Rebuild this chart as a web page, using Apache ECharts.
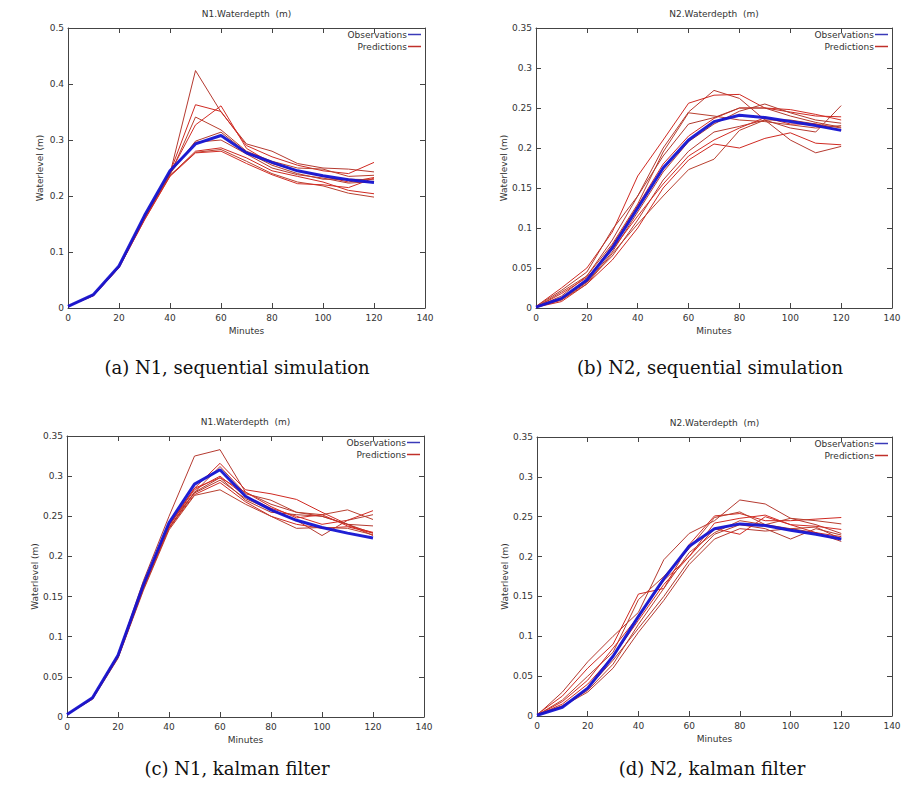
<!DOCTYPE html>
<html>
<head>
<meta charset="utf-8">
<script src="https://cdn.jsdelivr.net/npm/echarts@6/dist/echarts.min.js"></script>
<style>
html,body{margin:0;padding:0;background:#fff;}
#main{width:922px;height:790px;}
</style>
</head>
<body>
<div id="main"></div>
<script>
// ---- data ----
const minutes = [0, 10, 20, 30, 40, 50, 60, 70, 80, 90, 100, 110, 120];
const xTicks = [0, 20, 40, 60, 80, 100, 120, 140];
const panelTitles = ['N1.Waterdepth  (m)', 'N2.Waterdepth  (m)', 'N1.Waterdepth  (m)', 'N2.Waterdepth  (m)'];
const captions = ['(a) N1, sequential simulation', '(b) N2, sequential simulation', '(c) N1, kalman filter', '(d) N2, kalman filter'];
const yMax = [0.5, 0.35, 0.35, 0.35];
const yStep = [0.1, 0.05, 0.05, 0.05];

const obsA = [0.003, 0.024, 0.075, 0.165, 0.245, 0.293, 0.308, 0.277, 0.260, 0.245, 0.236, 0.229, 0.224];
const predA = [
  [0.003, 0.023, 0.074, 0.162, 0.240, 0.424, 0.350, 0.293, 0.280, 0.258, 0.250, 0.248, 0.243],
  [0.003, 0.024, 0.075, 0.163, 0.242, 0.363, 0.351, 0.290, 0.270, 0.255, 0.245, 0.240, 0.260],
  [0.003, 0.023, 0.073, 0.160, 0.238, 0.341, 0.318, 0.280, 0.262, 0.250, 0.248, 0.235, 0.237],
  [0.003, 0.024, 0.075, 0.164, 0.241, 0.327, 0.361, 0.285, 0.258, 0.245, 0.235, 0.225, 0.233],
  [0.003, 0.023, 0.074, 0.161, 0.240, 0.298, 0.314, 0.278, 0.255, 0.240, 0.230, 0.230, 0.229],
  [0.003, 0.024, 0.075, 0.163, 0.243, 0.296, 0.300, 0.275, 0.250, 0.238, 0.232, 0.223, 0.226],
  [0.003, 0.022, 0.072, 0.158, 0.236, 0.280, 0.286, 0.268, 0.245, 0.235, 0.225, 0.210, 0.204],
  [0.003, 0.023, 0.073, 0.159, 0.237, 0.278, 0.283, 0.262, 0.240, 0.225, 0.218, 0.205, 0.198],
  [0.003, 0.022, 0.072, 0.157, 0.235, 0.277, 0.280, 0.258, 0.238, 0.222, 0.220, 0.215, 0.232]
];

const obsB = [0.001, 0.012, 0.035, 0.075, 0.125, 0.175, 0.210, 0.233, 0.241, 0.238, 0.233, 0.228, 0.222];
const predB = [
  [0.001, 0.015, 0.040, 0.085, 0.140, 0.200, 0.245, 0.272, 0.262, 0.235, 0.210, 0.194, 0.202],
  [0.002, 0.025, 0.050, 0.095, 0.165, 0.210, 0.256, 0.266, 0.267, 0.250, 0.245, 0.240, 0.239],
  [0.001, 0.020, 0.040, 0.080, 0.130, 0.195, 0.244, 0.240, 0.235, 0.233, 0.229, 0.225, 0.228],
  [0.001, 0.012, 0.035, 0.078, 0.128, 0.180, 0.215, 0.237, 0.250, 0.250, 0.248, 0.242, 0.235],
  [0.001, 0.010, 0.032, 0.070, 0.120, 0.170, 0.208, 0.230, 0.246, 0.255, 0.244, 0.235, 0.231],
  [0.001, 0.012, 0.033, 0.065, 0.110, 0.160, 0.196, 0.220, 0.227, 0.235, 0.225, 0.220, 0.253],
  [0.001, 0.008, 0.030, 0.060, 0.100, 0.150, 0.185, 0.205, 0.200, 0.212, 0.219, 0.206, 0.204],
  [0.001, 0.010, 0.030, 0.068, 0.105, 0.140, 0.173, 0.186, 0.222, 0.235, 0.235, 0.230, 0.225],
  [0.001, 0.018, 0.038, 0.073, 0.115, 0.155, 0.190, 0.210, 0.225, 0.238, 0.230, 0.230, 0.222],
  [0.002, 0.022, 0.045, 0.098, 0.140, 0.190, 0.230, 0.238, 0.250, 0.250, 0.240, 0.232, 0.226]
];

const obsC = [0.003, 0.024, 0.077, 0.165, 0.242, 0.290, 0.308, 0.275, 0.258, 0.245, 0.236, 0.229, 0.223];
const predC = [
  [0.003, 0.024, 0.077, 0.170, 0.250, 0.325, 0.333, 0.280, 0.265, 0.255, 0.250, 0.240, 0.238],
  [0.003, 0.023, 0.075, 0.165, 0.240, 0.285, 0.316, 0.283, 0.278, 0.271, 0.255, 0.240, 0.226],
  [0.003, 0.023, 0.074, 0.160, 0.235, 0.280, 0.312, 0.278, 0.270, 0.255, 0.252, 0.258, 0.246],
  [0.003, 0.024, 0.076, 0.163, 0.238, 0.283, 0.300, 0.275, 0.260, 0.250, 0.240, 0.245, 0.257],
  [0.003, 0.023, 0.075, 0.162, 0.236, 0.280, 0.298, 0.270, 0.255, 0.252, 0.250, 0.240, 0.229],
  [0.003, 0.024, 0.076, 0.164, 0.240, 0.279, 0.295, 0.272, 0.258, 0.245, 0.226, 0.245, 0.252],
  [0.003, 0.023, 0.074, 0.160, 0.235, 0.277, 0.292, 0.268, 0.250, 0.240, 0.235, 0.237, 0.229],
  [0.003, 0.022, 0.073, 0.158, 0.233, 0.276, 0.283, 0.265, 0.250, 0.235, 0.236, 0.235, 0.227],
  [0.003, 0.024, 0.076, 0.163, 0.238, 0.285, 0.298, 0.280, 0.262, 0.248, 0.252, 0.238, 0.230]
];

const obsD = [0.001, 0.011, 0.035, 0.075, 0.125, 0.172, 0.213, 0.235, 0.241, 0.239, 0.233, 0.228, 0.222];
const predD = [
  [0.001, 0.030, 0.068, 0.100, 0.130, 0.196, 0.229, 0.245, 0.271, 0.266, 0.248, 0.240, 0.229],
  [0.002, 0.025, 0.060, 0.090, 0.153, 0.160, 0.215, 0.251, 0.254, 0.245, 0.245, 0.247, 0.249],
  [0.001, 0.020, 0.050, 0.080, 0.146, 0.175, 0.210, 0.249, 0.256, 0.240, 0.248, 0.245, 0.241],
  [0.001, 0.015, 0.040, 0.075, 0.120, 0.165, 0.200, 0.242, 0.248, 0.252, 0.240, 0.238, 0.234],
  [0.001, 0.011, 0.035, 0.070, 0.110, 0.150, 0.195, 0.228, 0.240, 0.235, 0.222, 0.235, 0.227],
  [0.001, 0.012, 0.030, 0.060, 0.105, 0.145, 0.190, 0.222, 0.235, 0.232, 0.235, 0.230, 0.219],
  [0.001, 0.018, 0.045, 0.085, 0.125, 0.170, 0.200, 0.235, 0.228, 0.250, 0.240, 0.230, 0.225],
  [0.001, 0.013, 0.032, 0.065, 0.115, 0.160, 0.205, 0.230, 0.245, 0.240, 0.235, 0.237, 0.222]
];

const observations = [obsA, obsB, obsC, obsD];
const predictions = [predA, predB, predC, predD];

// ---- layout ----
const grids = [
  {left: 68, top: 28, width: 357, height: 280},
  {left: 536, top: 28, width: 356, height: 280},
  {left: 67, top: 436, width: 357, height: 281},
  {left: 537, top: 437, width: 355, height: 279}
];
const legendPos = [
  {right: 501, top: 30},
  {right: 34, top: 30},
  {right: 502, top: 438},
  {right: 34, top: 439}
];
const captionPos = [[237, 367], [710, 367], [237, 768], [712, 768]];
const nameGaps = [24, 28, 28, 28];

const FONT = 'DejaVu Sans';
const predColors = ['#b53a30', '#cf2a22', '#b8402f', '#d22d25', '#b03a2e'];

const xAxes = [], yAxes = [], series = [], legends = [], graphics = [];
grids.forEach(function (g, i) {
  xAxes.push({
    gridIndex: i, type: 'value', min: 0, max: 140, interval: 20, position: 'bottom',
    name: 'Minutes', nameLocation: 'middle', nameGap: 18,
    nameTextStyle: {fontFamily: FONT, fontSize: 9, color: '#333'},
    axisLine: {show: true, onZero: false, lineStyle: {color: '#444', width: 1}},
    axisTick: {show: true, inside: true, length: 5, lineStyle: {color: '#444'}},
    axisLabel: {fontFamily: FONT, fontSize: 9, color: '#333', margin: 5},
    splitLine: {show: false}
  });
  xAxes.push({
    gridIndex: i, type: 'value', min: 0, max: 140, interval: 20, position: 'top',
    axisLine: {show: true, onZero: false, lineStyle: {color: '#444', width: 1}},
    axisTick: {show: true, inside: true, length: 5, lineStyle: {color: '#444'}},
    axisLabel: {show: false}, splitLine: {show: false}
  });
  yAxes.push({
    gridIndex: i, type: 'value', min: 0, max: yMax[i], interval: yStep[i], position: 'left',
    name: 'Waterlevel (m)', nameLocation: 'middle', nameRotate: 90, nameGap: nameGaps[i],
    nameTextStyle: {fontFamily: FONT, fontSize: 9, color: '#333'},
    axisLine: {show: true, onZero: false, lineStyle: {color: '#444', width: 1}},
    axisTick: {show: true, inside: true, length: 5, lineStyle: {color: '#444'}},
    axisLabel: {fontFamily: FONT, fontSize: 9, color: '#333', margin: 4},
    splitLine: {show: false}
  });
  yAxes.push({
    gridIndex: i, type: 'value', min: 0, max: yMax[i], interval: yStep[i], position: 'right',
    axisLine: {show: true, onZero: false, lineStyle: {color: '#444', width: 1}},
    axisTick: {show: true, inside: true, length: 5, lineStyle: {color: '#444'}},
    axisLabel: {show: false}, splitLine: {show: false}
  });

  predictions[i].forEach(function (vals, k) {
    series.push({
      name: 'Predictions', type: 'line', xAxisIndex: 2 * i, yAxisIndex: 2 * i,
      data: minutes.map(function (m, j) { return [m, vals[j]]; }),
      symbol: 'none', silent: true, z: 2,
      lineStyle: {color: predColors[k % predColors.length], width: 1},
      itemStyle: {color: '#c0302a'}
    });
  });
  series.push({
    name: 'Observations', type: 'line', xAxisIndex: 2 * i, yAxisIndex: 2 * i,
    data: minutes.map(function (m, j) { return [m, observations[i][j]]; }),
    symbol: 'none', silent: true, z: 3,
    lineStyle: {color: '#1414d2', width: 3, opacity: 0.95},
    itemStyle: {color: '#3a3ab8'}
  });

  legends.push({
    orient: 'vertical', align: 'right', right: legendPos[i].right, top: legendPos[i].top,
    padding: 0, itemGap: 3, itemWidth: 13, itemHeight: 1.5, icon: 'rect',
    selectedMode: false,
    textStyle: {fontFamily: FONT, fontSize: 9, color: '#333', padding: [0, -4, 0, 0]},
    data: [{name: 'Observations', itemStyle: {color: '#3a3ab8'}}, {name: 'Predictions', itemStyle: {color: '#c0302a'}}]
  });

  graphics.push({
    type: 'text', x: g.left + g.width / 2, y: g.top - 14,
    style: {text: panelTitles[i], fontFamily: FONT, fontSize: 9, fill: '#333', textAlign: 'center', textVerticalAlign: 'middle'}
  });
  graphics.push({
    type: 'text', x: captionPos[i][0], y: captionPos[i][1],
    style: {text: captions[i], fontFamily: 'DejaVu Serif', fontSize: 18, fill: '#111', textAlign: 'center', textVerticalAlign: 'middle'}
  });
});

const chart = echarts.init(document.getElementById('main'), null, {renderer: 'svg', width: 922, height: 790});
chart.setOption({
  backgroundColor: '#fff',
  animation: false,
  grid: grids.map(function (g) { return Object.assign({containLabel: false}, g); }),
  xAxis: xAxes,
  yAxis: yAxes,
  legend: legends,
  series: series,
  graphic: graphics
});
</script>
</body>
</html>
